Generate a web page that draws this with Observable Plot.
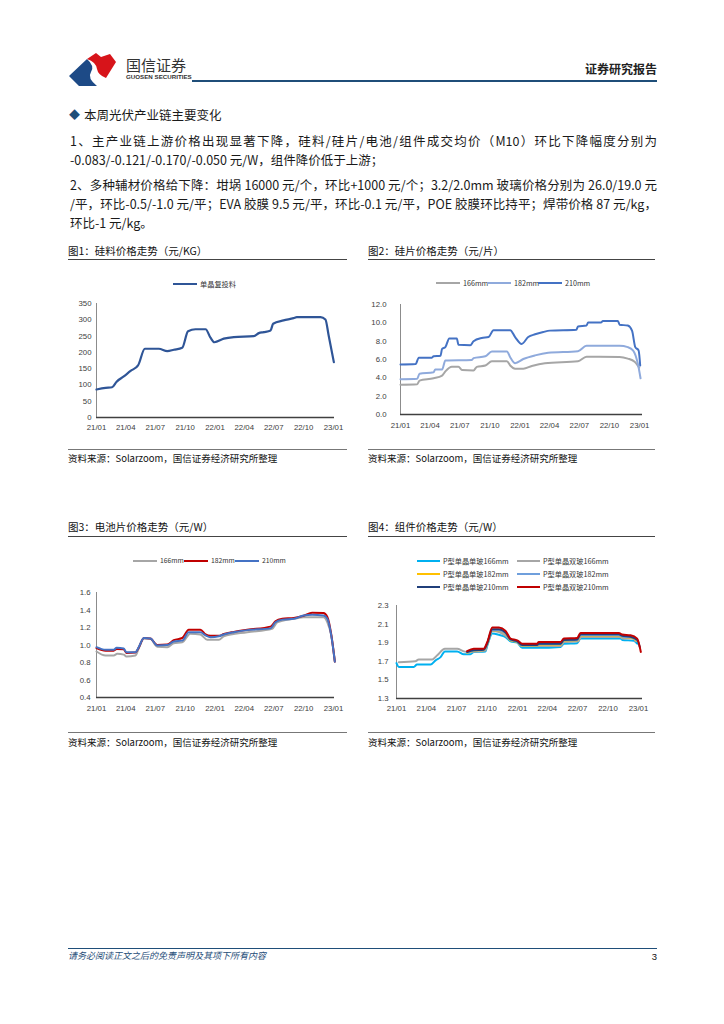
<!DOCTYPE html>
<html><head><meta charset="utf-8">
<script src="https://cdn.jsdelivr.net/npm/d3@7"></script>
<script src="https://cdn.jsdelivr.net/npm/@observablehq/plot@0.6"></script>
<style>
html,body{margin:0;padding:0;background:#fff;}
#page{position:relative;width:724px;height:1024px;overflow:hidden;background:#fff;font-family:"Noto Sans CJK SC","Noto Sans",sans-serif;color:#1a1a1a;}
.abs{position:absolute;white-space:nowrap;}
.just{text-align:justify;text-align-last:justify;}
svg.plot{position:absolute;}
</style></head>
<body><div id="page"></div>
<script>
// ---------------- DATA ----------------
const quarterTicks = ["2021-01-01","2021-04-01","2021-07-01","2021-10-01","2022-01-01","2022-04-01","2022-07-01","2022-10-01","2023-01-01"];

// 图1 硅料 单晶复投料 (元/KG)
const polyMono = [["2021-01-01",86],["2021-01-29",91],["2021-02-18",93],["2021-03-04",110],["2021-03-26",126],["2021-04-16",143],["2021-05-09",160],["2021-05-30",211],["2021-07-12",211],["2021-08-07",204],["2021-08-27",208],["2021-09-22",214],["2021-10-10",265],["2021-11-02",271],["2021-12-03",271],["2021-12-18",245],["2021-12-30",231],["2022-01-28",242],["2022-02-28",247],["2022-04-30",250],["2022-05-16",259],["2022-05-31",262],["2022-06-21",267],["2022-06-29",288],["2022-07-31",298],["2022-08-31",305],["2022-09-10",308],["2022-11-22",308],["2022-12-07",301],["2022-12-17",252],["2023-01-02",170]];

// 图2 硅片 (元/片)
const wafer166 = [["2021-01-01",3.25],["2021-02-21",3.3],["2021-02-28",3.7],["2021-04-12",3.95],["2021-05-08",4.25],["2021-05-18",4.7],["2021-06-07",5.2],["2021-06-27",5.2],["2021-07-08",4.85],["2021-08-12",4.8],["2021-08-22",5.2],["2021-09-17",5.35],["2021-10-07",5.8],["2021-11-22",5.8],["2021-12-02",5.35],["2021-12-17",5.0],["2022-01-11",5.0],["2022-02-06",5.3],["2022-03-18",5.6],["2022-06-27",5.8],["2022-07-23",6.3],["2022-11-01",6.28],["2022-11-26",6.1],["2022-12-17",5.75],["2022-12-31",5.1]];
const wafer182 = [["2021-01-01",3.85],["2021-02-21",3.9],["2021-02-28",4.45],["2021-04-12",4.6],["2021-04-17",4.9],["2021-05-08",4.9],["2021-05-18",5.9],["2021-08-07",5.95],["2021-08-12",6.15],["2021-09-17",6.35],["2021-10-07",6.87],["2021-11-22",6.87],["2021-12-02",6.25],["2021-12-17",5.6],["2022-01-11",6.05],["2022-02-16",6.45],["2022-03-28",6.73],["2022-06-27",6.9],["2022-07-23",7.5],["2022-11-01",7.5],["2022-11-26",7.35],["2022-12-12",7.0],["2022-12-27",5.5],["2023-01-04",3.95]];
const wafer210 = [["2021-01-01",5.45],["2021-02-16",5.5],["2021-02-26",6.2],["2021-04-07",6.2],["2021-04-12",6.35],["2021-05-03",6.4],["2021-05-08",7.15],["2021-05-18",7.35],["2021-05-30",8.3],["2021-06-22",8.3],["2021-06-27",7.6],["2021-08-02",7.55],["2021-08-12",8.0],["2021-09-06",8.35],["2021-09-27",8.45],["2021-10-12",9.2],["2021-12-02",9.2],["2021-12-17",8.45],["2022-01-06",7.7],["2022-01-26",8.45],["2022-02-16",8.75],["2022-03-13",9.0],["2022-04-02",9.15],["2022-06-22",9.25],["2022-06-27",9.6],["2022-07-23",9.7],["2022-07-28",10.05],["2022-09-06",10.05],["2022-09-11",10.2],["2022-10-27",10.2],["2022-11-01",9.8],["2022-11-26",9.7],["2022-12-09",9.15],["2022-12-19",7.35],["2022-12-29",7.0],["2023-01-03",5.35]];

// 图3 电池片 (元/W)
const cell166 = [["2021-01-01",0.926],["2021-01-29",0.88],["2021-02-23",0.88],["2021-03-06",0.9],["2021-03-26",0.89],["2021-04-03",0.87],["2021-05-01",0.88],["2021-05-11",0.96],["2021-05-27",1.075],["2021-06-16",1.07],["2021-07-07",0.98],["2021-08-07",0.975],["2021-08-27",1.02],["2021-09-22",1.03],["2021-10-17",1.13],["2021-11-17",1.12],["2021-12-08",1.06],["2022-01-13",1.06],["2022-01-28",1.1],["2022-04-10",1.146],["2022-06-26",1.185],["2022-07-12",1.26],["2022-09-01",1.3],["2022-10-01",1.318],["2022-12-01",1.318],["2022-12-13",1.26],["2022-12-25",1.11],["2023-01-05",0.82]];
const cell182 = [["2021-01-01",0.965],["2021-01-29",0.935],["2021-02-23",0.935],["2021-03-04",0.955],["2021-03-26",0.95],["2021-04-03",0.91],["2021-05-01",0.915],["2021-05-11",0.97],["2021-05-27",1.08],["2021-06-16",1.075],["2021-07-07",1.0],["2021-08-07",1.005],["2021-08-27",1.055],["2021-09-22",1.08],["2021-10-12",1.175],["2021-11-17",1.175],["2021-12-03",1.12],["2021-12-18",1.105],["2022-01-13",1.105],["2022-01-28",1.125],["2022-02-28",1.15],["2022-04-10",1.175],["2022-06-21",1.21],["2022-07-06",1.27],["2022-07-27",1.3],["2022-09-01",1.31],["2022-10-01",1.335],["2022-10-27",1.37],["2022-12-01",1.365],["2022-12-13",1.32],["2022-12-25",1.12],["2023-01-05",0.81]];
const cell210 = [["2021-01-01",0.975],["2021-01-29",0.945],["2021-02-23",0.945],["2021-03-04",0.968],["2021-03-26",0.96],["2021-04-03",0.918],["2021-05-01",0.918],["2021-05-11",0.975],["2021-05-27",1.08],["2021-06-16",1.075],["2021-07-07",0.995],["2021-08-07",1.0],["2021-08-27",1.04],["2021-09-22",1.05],["2021-10-12",1.146],["2021-11-17",1.146],["2021-12-03",1.11],["2021-12-18",1.09],["2022-01-13",1.1],["2022-01-28",1.12],["2022-02-28",1.146],["2022-04-10",1.17],["2022-06-21",1.19],["2022-07-06",1.26],["2022-07-27",1.29],["2022-09-01",1.3],["2022-10-01",1.337],["2022-10-27",1.345],["2022-12-01",1.337],["2022-12-13",1.3],["2022-12-25",1.11],["2023-01-05",0.81]];

// 图4 组件 (元/W)
const modMono166 = [["2021-01-01",1.68],["2021-01-08",1.64],["2021-02-22",1.64],["2021-03-04",1.665],["2021-04-14",1.665],["2021-04-29",1.71],["2021-05-14",1.745],["2021-05-27",1.805],["2021-07-03",1.805],["2021-07-23",1.775],["2021-08-12",1.775],["2021-08-22",1.8],["2021-09-26",1.805],["2021-10-02",1.87],["2021-10-17",2.0],["2021-11-06",1.985],["2021-11-26",1.96],["2021-12-11",1.915],["2021-12-31",1.9],["2022-01-15",1.845],["2022-03-01",1.845],["2022-05-11",1.855],["2022-05-21",1.89],["2022-06-30",1.895],["2022-07-10",1.945],["2022-11-08",1.945],["2022-11-13",1.93],["2022-12-18",1.92],["2022-12-28",1.89]];
const modBi166 = [["2021-01-08",1.69],["2021-02-27",1.7],["2021-03-09",1.72],["2021-04-19",1.72],["2021-05-04",1.765],["2021-05-27",1.835],["2021-07-03",1.835],["2021-07-23",1.807],["2021-08-07",1.8],["2021-09-26",1.815],["2021-10-02",1.89],["2021-10-17",2.025],["2021-11-06",2.015],["2021-11-26",1.975],["2021-12-11",1.93],["2022-01-05",1.91],["2022-01-15",1.865],["2022-05-11",1.865],["2022-05-21",1.908],["2022-07-03",1.915],["2022-07-12",1.962],["2022-11-08",1.962],["2022-11-13",1.944],["2022-12-18",1.944],["2022-12-23",1.915]];
const modMono182 = [["2021-08-02",1.79],["2021-08-22",1.815],["2021-09-21",1.82],["2021-10-02",1.885],["2021-10-17",2.03],["2021-11-06",2.03],["2021-11-26",1.995],["2021-12-11",1.925],["2021-12-31",1.905],["2022-01-15",1.865],["2022-03-01",1.865],["2022-03-06",1.88],["2022-05-11",1.88],["2022-05-21",1.92],["2022-06-30",1.925],["2022-07-10",1.975],["2022-11-03",1.975],["2022-11-13",1.96],["2022-12-08",1.955],["2022-12-28",1.92]];
const modBi182 = [["2021-08-02",1.795],["2021-08-22",1.82],["2021-09-21",1.825],["2021-10-02",1.89],["2021-10-17",2.035],["2021-11-06",2.035],["2021-11-26",2.0],["2021-12-11",1.93],["2021-12-31",1.91],["2022-01-15",1.87],["2022-03-01",1.87],["2022-03-06",1.885],["2022-05-11",1.885],["2022-05-21",1.925],["2022-06-30",1.93],["2022-07-10",1.98],["2022-11-03",1.98],["2022-11-13",1.965],["2022-12-08",1.96],["2022-12-28",1.925]];
const modMono210 = [["2021-08-02",1.8],["2021-08-22",1.82],["2021-09-21",1.825],["2021-10-02",1.895],["2021-10-17",2.045],["2021-11-06",2.045],["2021-11-26",2.01],["2021-12-11",1.935],["2021-12-31",1.915],["2022-01-15",1.875],["2022-03-01",1.875],["2022-03-06",1.89],["2022-05-11",1.89],["2022-05-21",1.93],["2022-06-30",1.935],["2022-07-10",1.99],["2022-11-03",1.99],["2022-11-13",1.975],["2022-12-08",1.965],["2022-12-28",1.93],["2023-01-05",1.85]];
const modBi210 = [["2021-08-02",1.81],["2021-08-22",1.836],["2021-09-21",1.836],["2021-10-02",1.908],["2021-10-17",2.063],["2021-11-06",2.063],["2021-11-26",2.027],["2021-12-11",1.944],["2021-12-31",1.926],["2022-01-15",1.89],["2022-03-01",1.89],["2022-03-06",1.908],["2022-05-11",1.908],["2022-05-21",1.944],["2022-06-30",1.95],["2022-07-10",2.005],["2022-11-03",2.005],["2022-11-13",1.987],["2022-12-08",1.98],["2022-12-28",1.944],["2023-01-08",1.8]];

// ---------------- PAGE HELPERS ----------------
const page = document.getElementById("page");
function text(t, x, cy, size, opts = {}) {
  const d = document.createElement("div");
  d.className = "abs" + (opts.just ? " just" : "");
  d.textContent = t;
  d.style.left = x + "px";
  d.style.top = (cy - size * 0.7) + "px";
  d.style.fontSize = size + "px";
  d.style.lineHeight = (size * 1.4) + "px";
  if (opts.width) d.style.width = opts.width + "px";
  if (opts.color) d.style.color = opts.color;
  if (opts.weight) d.style.fontWeight = opts.weight;
  if (opts.italic) d.style.fontStyle = "italic";
  if (opts.family) d.style.fontFamily = opts.family;
  if (opts.right) { d.style.left = "auto"; d.style.right = (724 - x) + "px"; }
  page.appendChild(d);
  return d;
}
function hline(x1, x2, y, color, w) {
  const d = document.createElement("div");
  d.className = "abs";
  d.style.left = x1 + "px"; d.style.top = (y - w / 2) + "px";
  d.style.width = (x2 - x1) + "px"; d.style.height = w + "px";
  d.style.background = color;
  page.appendChild(d);
}
function legendItem(x, cy, label, color, swW = 24, size = 7.2) {
  hline(x, x + swW, cy, color, 2.5);
  text(label, x + swW + 3, cy, size, {color: "#333", family: "'Noto Sans CJK SC','Liberation Sans',sans-serif"});
}

// ---------------- HEADER ----------------
const logo = document.createElementNS("http://www.w3.org/2000/svg", "svg");
logo.setAttribute("width", "60"); logo.setAttribute("height", "40");
logo.style.position = "absolute"; logo.style.left = "66px"; logo.style.top = "48px";
logo.innerHTML = '<path d="M3,28 L21,11 Q29,18 25,24 Q21,30 31,38 L13,38 Z" fill="#1d4a86"/>' +
  '<path d="M21,11 L30,5 L35,9 L44,6 L50,14 L40,30 Q32,27 31,21 Q30,14 21,11 Z" fill="#d7141a"/>';
page.appendChild(logo);
text("国信证券", 126, 64, 15, {color: "#333"});
text("GUOSEN SECURITIES", 126, 77, 6.2, {color: "#333", weight: "bold", family: "'Liberation Sans',Arial,sans-serif"});
hline(192, 657, 81, "#1f4e79", 2);
text("证券研究报告", 657, 69, 12, {right: true, weight: "bold", color: "#222"});

// ---------------- BODY TEXT ----------------
text("◆", 69, 115, 11, {color: "#1f4e79"});
text("本周光伏产业链主要变化", 84, 115, 12.5);
text("1、主产业链上游价格出现显著下降，硅料/硅片/电池/组件成交均价（M10）环比下降幅度分别为", 70, 141, 12.5, {just: true, width: 587});
text("-0.083/-0.121/-0.170/-0.050 元/W，组件降价低于上游；", 70, 160, 12.5);
text("2、多种辅材价格给下降：坩埚 16000 元/个，环比+1000 元/个；3.2/2.0mm 玻璃价格分别为 26.0/19.0 元", 70, 185, 12.5, {just: true, width: 587});
text("/平，环比-0.5/-1.0 元/平；EVA 胶膜 9.5 元/平，环比-0.1 元/平，POE 胶膜环比持平；焊带价格 87 元/kg，", 70, 204, 12.5, {just: true, width: 587});
text("环比-1 元/kg。", 70, 223, 12.5);

// ---------------- CHART FRAMES ----------------
const srcTxt = "资料来源：Solarzoom，国信证券经济研究所整理";
function frame(x1, x2, titleY, lineY, srcLineY, srcY, title) {
  text(title, x1, titleY, 10.5, {color: "#111"});
  hline(x1, x2, lineY, "#444", 1);
  hline(x1, x2, srcLineY, "#777", 1);
  text(srcTxt, x1, srcY, 9.5, {color: "#111"});
}
frame(68, 347, 251, 259, 449, 459, "图1：硅料价格走势（元/KG）");
frame(368, 655, 251, 259, 449, 459, "图2：硅片价格走势（元/片）");
frame(68, 347, 527, 536, 732, 743, "图3：电池片价格走势（元/W）");
frame(368, 655, 527, 536, 732, 743, "图4：组件价格走势（元/W）");

// legends
legendItem(173, 284, "单晶复投料", "#2f5597");
legendItem(436, 283, "166mm", "#a6a6a6");
legendItem(487, 283, "182mm", "#8faadc");
legendItem(538, 283, "210mm", "#4472c4");
legendItem(133, 561, "166mm", "#a6a6a6", 24, 6.8);
legendItem(184, 561, "182mm", "#c00000", 24, 6.8);
legendItem(235, 561, "210mm", "#4472c4", 24, 6.8);
legendItem(417, 561, "P型单晶单玻166mm", "#00b0f0", 23);
legendItem(517, 561, "P型单晶双玻166mm", "#a6a6a6", 23);
legendItem(417, 574, "P型单晶单玻182mm", "#ffc000", 23);
legendItem(517, 574, "P型单晶双玻182mm", "#6f9fdc", 23);
legendItem(417, 587, "P型单晶单玻210mm", "#203f7a", 23);
legendItem(517, 587, "P型单晶双玻210mm", "#c00000", 23);

// ---------------- PLOTS ----------------
const parse = d3.utcParse("%Y-%m-%d");
const tickDates = quarterTicks.map(parse);
function rows(arr) { return arr.map(([d, v]) => ({date: parse(d), value: v})); }

function chart(cfg) {
  const xd = [parse("2021-01-01"), parse(cfg.xEnd)];
  const marks = [Plot.ruleX([xd[0]], {stroke: "#8c8c8c", strokeWidth: 1})];
  for (const s of cfg.series) {
    marks.push(Plot.line(rows(s.data), {x: "date", y: "value", stroke: s.color, strokeWidth: s.w || 2, curve: "monotone-x"}));
  }
  marks.push(Plot.ruleY([cfg.yDomain[0]], {stroke: "#404040", strokeWidth: 1.5}));
  const svg = Plot.plot({
    width: cfg.width, height: cfg.height,
    marginLeft: cfg.ml, marginRight: cfg.mr, marginTop: cfg.mt, marginBottom: cfg.mb,
    style: {fontFamily: "'Liberation Sans',Arial,sans-serif", fontSize: "7.8px", color: "#404040", background: "transparent", overflow: "visible"},
    x: {type: "utc", domain: xd, ticks: tickDates, tickFormat: d3.utcFormat("%y/%m"), tickSize: 0, tickPadding: cfg.xpad, label: null},
    y: {domain: cfg.yDomain, ticks: cfg.yTicks, tickFormat: d3.format(cfg.yFmt), tickSize: 0, tickPadding: cfg.ypad, label: null},
    marks
  });
  svg.style.left = cfg.left + "px";
  svg.style.top = cfg.top + "px";
  svg.style.position = "absolute";
  page.appendChild(svg);
}

chart({left: 60, top: 290, width: 290, height: 150, ml: 36, mr: 16, mt: 13, mb: 23, xEnd: "2023-01-04", xpad: 7,
  yDomain: [0, 350], yTicks: d3.range(0, 351, 50), yFmt: "d", ypad: 5,
  series: [{data: polyMono, color: "#2f5597", w: 2.2}]});

chart({left: 360, top: 290, width: 290, height: 150, ml: 40, mr: 8, mt: 14, mb: 26, xEnd: "2023-01-10", xpad: 8,
  yDomain: [0, 12], yTicks: d3.range(0, 12.1, 2), yFmt: ".1f", ypad: 14,
  series: [{data: wafer166, color: "#a6a6a6", w: 2}, {data: wafer182, color: "#8faadc", w: 2}, {data: wafer210, color: "#4472c4", w: 2}]});

chart({left: 60, top: 580, width: 290, height: 140, ml: 36, mr: 16, mt: 12, mb: 23, xEnd: "2023-01-04", xpad: 8,
  yDomain: [0.4, 1.6], yTicks: [0.4, 0.6, 0.8, 1.0, 1.2, 1.4, 1.6], yFmt: ".1f", ypad: 6,
  series: [{data: cell166, color: "#a6a6a6"}, {data: cell182, color: "#c00000"}, {data: cell210, color: "#4472c4"}]});

chart({left: 360, top: 595, width: 290, height: 125, ml: 36, mr: 8, mt: 10, mb: 22, xEnd: "2023-01-13", xpad: 6.5,
  yDomain: [1.3, 2.3], yTicks: [1.3, 1.5, 1.7, 1.9, 2.1, 2.3], yFmt: ".1f", ypad: 8,
  series: [{data: modMono166, color: "#00b0f0"}, {data: modBi166, color: "#a6a6a6"}, {data: modMono182, color: "#ffc000"},
           {data: modBi182, color: "#6f9fdc"}, {data: modMono210, color: "#203f7a"}, {data: modBi210, color: "#c00000"}]});

// ---------------- FOOTER ----------------
hline(68, 657, 948, "#1f4e79", 1);
text("请务必阅读正文之后的免责声明及其项下所有内容", 68, 956, 9, {italic: true, color: "#1f4e79"});
text("3", 657, 957, 9.5, {right: true, color: "#111", family: "'Liberation Sans',Arial,sans-serif"});
</script></body></html>
